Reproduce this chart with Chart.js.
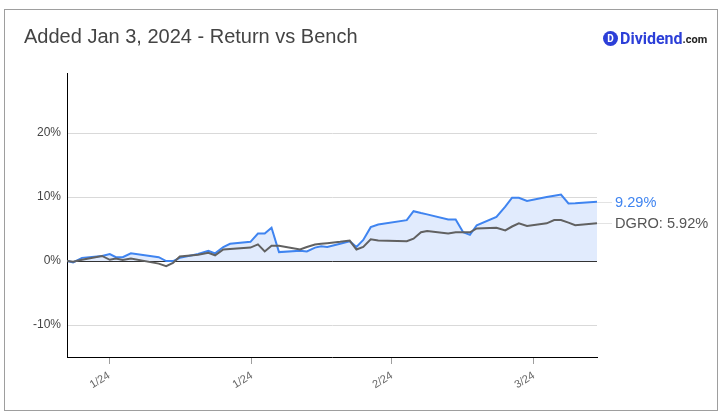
<!DOCTYPE html>
<html>
<head>
<meta charset="utf-8">
<script src="https://cdn.jsdelivr.net/npm/chart.js@4.4.1/dist/chart.umd.min.js"></script>
<style>
  html, body { margin: 0; padding: 0; background: #fff; }
  #wrap { position: relative; width: 725px; height: 416px; overflow: hidden; }
  #frame { position: absolute; left: 4px; top: 9px; width: 714px; height: 402px; border: 1px solid #9e9e9e; box-sizing: border-box; }
  #title { position: absolute; left: 24px; top: 25px; font-family: Arial, "Liberation Sans", sans-serif; font-size: 20px; color: #444; white-space: nowrap; }
  #logo { position: absolute; left: 603px; top: 29px; height: 18px; display: flex; align-items: center; font-family: Roboto, Arial, sans-serif; white-space: nowrap; }
  #logo .dot { width: 15px; height: 15px; border-radius: 50%; background: #2c3fd8; color: #fff; font-size: 10px; font-weight: 700; display: flex; align-items: center; justify-content: center; margin-right: 2px; }
  #logo .name { font-size: 16px; font-weight: 700; color: #2c3fd8; }
  #logo .com { font-size: 11px; font-weight: 700; color: #222; margin-top: 3px; }
  canvas { position: absolute; left: 0; top: 0; }
</style>
</head>
<body>
<div id="wrap">
  <canvas id="c" width="725" height="416"></canvas>
  <div id="frame"></div>
  <div id="title">Added Jan 3, 2024 - Return vs Bench</div>
  <div id="logo"><span class="dot">D</span><span class="name">Dividend</span><span class="com">.com</span></div>
</div>
<script>
// Days since Jan 3, 2024
const dayOffsets = [0, 0.9, 2.2, 5.15, 6.3, 7.2, 8.2, 9.4, 13.5, 14.6, 15.6, 16.6, 19.3, 20.8, 21.8, 23.0, 24.0,
  27.0, 28.1, 29.1, 30.1, 31.2, 34.3, 35.3, 36.5, 37.4, 38.3, 40.2, 41.6, 42.6, 43.6, 44.7, 45.8,
  50.0, 51.0, 52.1, 53.0, 56.1, 57.2, 58.3, 59.3, 60.3, 63.2, 64.5, 65.5, 66.5, 67.7, 70.6, 71.7,
  72.7, 73.8, 74.8, 78.0];
// Portfolio return (%)
const portfolioReturn = [0, -0.2, 0.5, 0.8, 1.1, 0.6, 0.6, 1.2, 0.6, 0.0, 0.0, 0.5, 1.1, 1.6, 1.2, 2.2, 2.7,
  3.0, 4.3, 4.3, 5.2, 1.4, 1.6, 1.5, 2.1, 2.3, 2.2, 2.7, 3.1, 2.2, 3.3, 5.3, 5.7,
  6.4, 7.8, 7.5, 7.3, 6.5, 6.5, 4.5, 4.1, 5.6, 6.9, 8.5, 9.9, 9.9, 9.4, 10.0, 10.2,
  10.4, 9.0, 9.05, 9.29];
// Benchmark DGRO return (%)
const dgroReturn = [0, -0.1, 0.2, 0.8, 0.2, 0.4, 0.15, 0.4, -0.4, -0.8, -0.3, 0.7, 1.0, 1.3, 0.9, 1.8, 1.9,
  2.1, 2.6, 1.5, 2.4, 2.4, 1.8, 2.2, 2.6, 2.7, 2.8, 3.0, 3.2, 1.8, 2.2, 3.4, 3.2,
  3.1, 3.5, 4.5, 4.7, 4.3, 4.5, 4.5, 4.5, 5.1, 5.2, 4.8, 5.4, 5.9, 5.5, 5.9, 6.4,
  6.4, 6.0, 5.6, 5.92];
const yTicks = [-10, 0, 10, 20];
const xTickDays = [6.2, 27.2, 47.8, 68.7];
const xTickLabels = ['1/24', '1/24', '2/24', '3/24'];
const benchName = 'DGRO';

const BLUE = '#3f84f0';
const GRAY = '#616161';

const endLabels = {
  id: 'endLabels',
  afterDatasetsDraw(chart) {
    const ctx = chart.ctx;
    const area = chart.chartArea;
    const ys = chart.scales.y;
    const items = [
      { v: portfolioReturn[portfolioReturn.length - 1], text: portfolioReturn[portfolioReturn.length - 1].toFixed(2) + '%', color: BLUE },
      { v: dgroReturn[dgroReturn.length - 1], text: benchName + ': ' + dgroReturn[dgroReturn.length - 1].toFixed(2) + '%', color: '#555' }
    ];
    ctx.save();
    items.forEach(it => {
      const y = Math.round(ys.getPixelForValue(it.v)) + 0.5;
      ctx.strokeStyle = '#e3e3e3';
      ctx.lineWidth = 1;
      ctx.beginPath();
      ctx.moveTo(area.right, y);
      ctx.lineTo(area.right + 15, y);
      ctx.stroke();
      ctx.fillStyle = it.color;
      ctx.font = '14.6px Arial, "Liberation Sans", sans-serif';
      ctx.textBaseline = 'middle';
      ctx.textAlign = 'left';
      ctx.fillText(it.text, area.right + 18, y);
    });
    ctx.restore();
  }
};

new Chart(document.getElementById('c'), {
  type: 'line',
  data: {
    datasets: [
      {
        label: 'Return',
        data: dayOffsets.map((d, i) => ({ x: d, y: portfolioReturn[i] })),
        borderColor: BLUE,
        backgroundColor: 'rgba(66,133,244,0.16)',
        borderWidth: 2,
        pointRadius: 0,
        fill: 'origin',
        tension: 0,
        order: 1
      },
      {
        label: benchName,
        data: dayOffsets.map((d, i) => ({ x: d, y: dgroReturn[i] })),
        borderColor: GRAY,
        borderWidth: 2,
        pointRadius: 0,
        fill: false,
        tension: 0,
        order: 0
      }
    ]
  },
  options: {
    responsive: false,
    animation: false,
    devicePixelRatio: 1,
    layout: { padding: { left: 0, top: 73, right: 128, bottom: 0 } },
    plugins: { legend: { display: false }, tooltip: { enabled: false } },
    scales: {
      x: {
        type: 'linear',
        min: 0,
        max: 78,
        afterBuildTicks(scale) { scale.ticks = xTickDays.map(v => ({ value: v })); },
        afterFit(scale) { scale.height = 59; },
        border: { display: true, color: '#000', width: 1 },
        grid: { drawOnChartArea: false, drawTicks: true, tickLength: 7, tickColor: '#9e9e9e' },
        ticks: {
          autoSkip: false,
          maxRotation: 32,
          minRotation: 32,
          padding: 5,
          color: '#666',
          font: { family: 'Arial, "Liberation Sans", sans-serif', size: 11 },
          callback(value) {
            const idx = xTickDays.indexOf(value);
            return idx >= 0 ? xTickLabels[idx] : '';
          }
        }
      },
      y: {
        min: -15,
        max: 29.4,
        afterBuildTicks(scale) { scale.ticks = yTicks.map(v => ({ value: v })); },
        afterFit(scale) { scale.width = 67; },
        border: { display: true, color: '#000', width: 1 },
        grid: {
          drawTicks: false,
          color: ctx => (ctx.tick && ctx.tick.value === 0 ? '#333' : '#d9d9d9'),
          lineWidth: 1
        },
        ticks: {
          padding: 6,
          color: '#444',
          font: { family: 'Arial, "Liberation Sans", sans-serif', size: 12 },
          callback: v => v + '%'
        }
      }
    }
  },
  plugins: [endLabels]
});
</script>
</body>
</html>
